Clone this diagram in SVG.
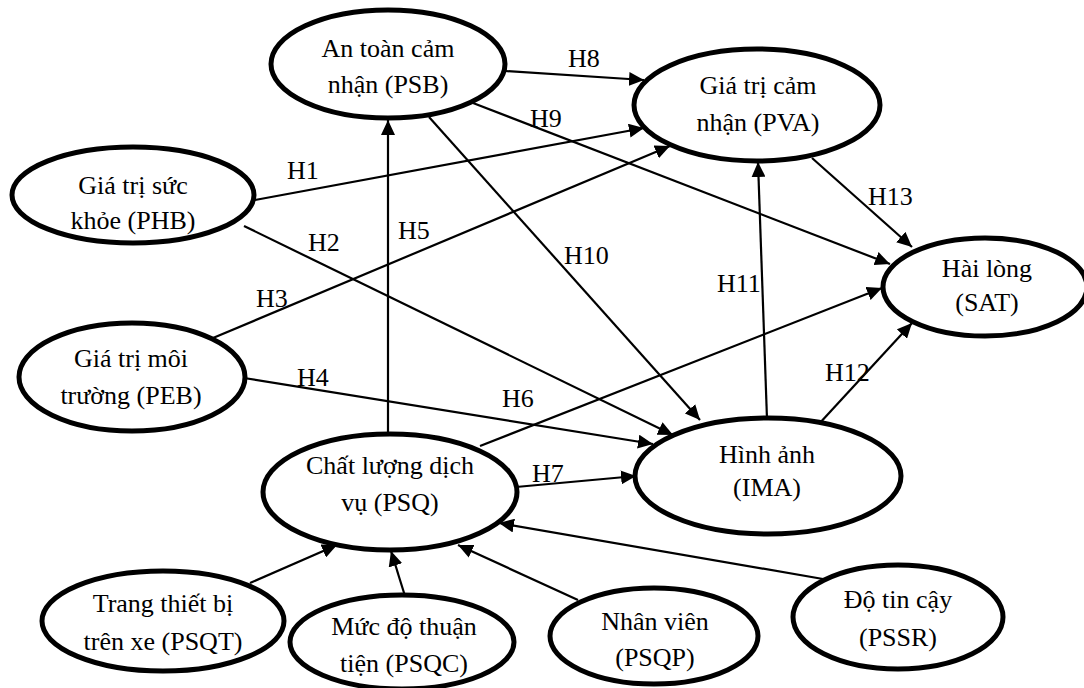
<svg xmlns="http://www.w3.org/2000/svg" width="1084" height="688" viewBox="0 0 1084 688">
<defs>
<marker id="arr" markerUnits="userSpaceOnUse" markerWidth="16" markerHeight="14" refX="15" refY="7" orient="auto">
<path d="M0,0 L15,7 L0,14 Z" fill="#000"/>
</marker>
<style>
.n ellipse{fill:#fff;stroke:#000;stroke-width:5}
.n text{text-anchor:middle}
.c line{stroke:#000;stroke-width:2.2;marker-end:url(#arr)}
</style>
</defs>
<rect width="1084" height="688" fill="#fff"/>
<g class="c" id="connectors">
<line x1="505" y1="71" x2="644" y2="80"/>
<line x1="473" y1="103" x2="890" y2="264"/>
<line x1="255" y1="200" x2="644" y2="128"/>
<line x1="213" y1="338" x2="670" y2="146"/>
<line x1="244" y1="226" x2="673" y2="435"/>
<line x1="388" y1="435" x2="388" y2="120"/>
<line x1="429" y1="117" x2="700" y2="420"/>
<line x1="244" y1="378" x2="653" y2="444"/>
<line x1="480" y1="446" x2="882" y2="288"/>
<line x1="516" y1="487" x2="636" y2="476"/>
<line x1="767" y1="419" x2="758" y2="162"/>
<line x1="818" y1="425" x2="912" y2="323"/>
<line x1="812" y1="158" x2="912" y2="247"/>
<line x1="250" y1="583" x2="337" y2="545"/>
<line x1="405" y1="596" x2="391" y2="551"/>
<line x1="578" y1="600" x2="458" y2="545"/>
<line x1="823" y1="579" x2="499" y2="523"/>
</g>
<g id="labels" font-family="'Liberation Serif', 'Times New Roman', serif" font-size="26" fill="#000">
<text x="568" y="67">H8</text>
<text x="530" y="127">H9</text>
<text x="287" y="179">H1</text>
<text x="398" y="239">H5</text>
<text x="308" y="251">H2</text>
<text x="256" y="307">H3</text>
<text x="297" y="386">H4</text>
<text x="502" y="407">H6</text>
<text x="532" y="482">H7</text>
<text x="564" y="264">H10</text>
<text x="717" y="292">H11</text>
<text x="825" y="381">H12</text>
<text x="868" y="205">H13</text>
</g>
<g id="nodes" class="n" font-family="'Liberation Serif', 'Times New Roman', serif" font-size="26" fill="#000">
<g id="PSB"><ellipse cx="388" cy="64" rx="117" ry="54"/><text x="388" y="57">An toàn cảm</text><text x="388" y="93">nhận (PSB)</text></g>
<g id="PVA"><ellipse cx="757" cy="105" rx="123" ry="56"/><text x="758" y="94">Giá trị cảm</text><text x="758" y="131">nhận (PVA)</text></g>
<g id="PHB"><ellipse cx="133" cy="195" rx="121" ry="48"/><text x="133" y="194">Giá trị sức</text><text x="133" y="229">khỏe (PHB)</text></g>
<g id="SAT"><ellipse cx="985" cy="287" rx="102" ry="49"/><text x="987" y="277">Hài lòng</text><text x="987" y="311">(SAT)</text></g>
<g id="PEB"><ellipse cx="132" cy="377" rx="113" ry="54"/><text x="131" y="367">Giá trị môi</text><text x="131" y="404">trường (PEB)</text></g>
<g id="IMA"><ellipse cx="768" cy="476" rx="133" ry="58"/><text x="767" y="463">Hình ảnh</text><text x="767" y="496">(IMA)</text></g>
<g id="PSQ"><ellipse cx="390" cy="492" rx="127" ry="58"/><text x="390" y="474">Chất lượng dịch</text><text x="390" y="511">vụ (PSQ)</text></g>
<g id="PSQT"><ellipse cx="163" cy="621" rx="121" ry="50"/><text x="163" y="612">Trang thiết bị</text><text x="163" y="650">trên xe (PSQT)</text></g>
<g id="PSQC"><ellipse cx="402" cy="642" rx="112" ry="47"/><text x="404" y="635">Mức độ thuận</text><text x="404" y="672">tiện (PSQC)</text></g>
<g id="PSQP"><ellipse cx="654" cy="636" rx="104" ry="48"/><text x="655" y="630">Nhân viên</text><text x="655" y="666">(PSQP)</text></g>
<g id="PSSR"><ellipse cx="898" cy="617" rx="105" ry="52"/><text x="898" y="608">Độ tin cậy</text><text x="898" y="646">(PSSR)</text></g>
</g>
</svg>
